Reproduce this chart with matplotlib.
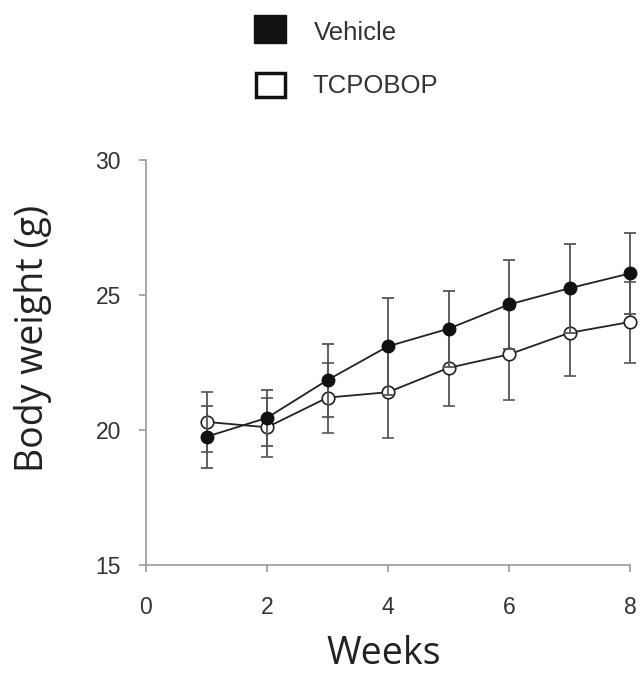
import matplotlib
matplotlib.use('Agg')
import matplotlib.pyplot as plt
from matplotlib.patches import Rectangle

# Data
weeks = [1, 2, 3, 4, 5, 6, 7, 8]
vehicle = [19.75, 20.45, 21.85, 23.1, 23.75, 24.65, 25.25, 25.8]
vehicle_err = [1.15, 1.05, 1.35, 1.8, 1.4, 1.65, 1.65, 1.5]
tcpobop = [20.3, 20.1, 21.2, 21.4, 22.3, 22.8, 23.6, 24.0]
tcpobop_err = [1.1, 1.1, 1.3, 1.7, 1.4, 1.7, 1.6, 1.5]

x_ticks = [0, 2, 4, 6, 8]
y_ticks = [15, 20, 25, 30]

fig = plt.figure(figsize=(6.4, 6.77), dpi=100)
ax = fig.add_axes([146 / 640, 1 - 565 / 677, 484 / 640, 405 / 677])

err_style = dict(ecolor='#555555', elinewidth=1.3, capsize=4.5, capthick=1.3)
ax.errorbar(weeks, tcpobop, yerr=tcpobop_err, color='#222222', lw=1.3,
            marker='o', ms=9, mfc='white', mec='#222222', mew=1.2,
            clip_on=False, zorder=3, **err_style)
ax.errorbar(weeks, vehicle, yerr=vehicle_err, color='#222222', lw=1.3,
            marker='o', ms=9, mfc='#111111', mec='#111111',
            clip_on=False, zorder=4, **err_style)

ax.set_xlim(0, 8)
ax.set_ylim(15, 30)
ax.set_xticks(x_ticks)
ax.set_yticks(y_ticks)
for s in ['top', 'right']:
    ax.spines[s].set_visible(False)
for s in ['left', 'bottom']:
    ax.spines[s].set_color('#999999')
    ax.spines[s].set_linewidth(1.2)
ax.tick_params(colors='#999999', length=5, width=1.2, labelcolor='#333333',
               labelsize=16.5)
ax.tick_params(axis='x', pad=17)
ax.tick_params(axis='y', pad=13)
for lab in ax.get_xticklabels() + ax.get_yticklabels():
    lab.set_family('Liberation Sans')

ax.set_xlabel('Weeks', family='Open Sans', fontsize=27, color='#222222')
ax.set_ylabel('Body weight (g)', family='Open Sans', fontsize=27, color='#222222')
ax.xaxis.set_label_coords(0.492, -0.172)
ax.yaxis.set_label_coords(-0.194, 0.56)

# legend drawn by hand at the top
fig.add_artist(Rectangle((254 / 640, 1 - 43 / 677), 32 / 640, 28 / 677,
                         transform=fig.transFigure, fc='#111111', ec='#111111'))
fig.add_artist(Rectangle((256 / 640, 1 - 97 / 677), 29 / 640, 24 / 677,
                         transform=fig.transFigure, fc='white', ec='#111111', lw=2.5))
fig.text(314 / 640, 1 - 33 / 677, 'Vehicle', family='Liberation Sans', fontsize=18.5,
         color='#333333', va='center')
fig.text(312 / 640, 1 - 86 / 677, 'TCPOBOP', family='Liberation Sans', fontsize=18.5,
         color='#333333', va='center')

fig.savefig('out.png', dpi=100)
